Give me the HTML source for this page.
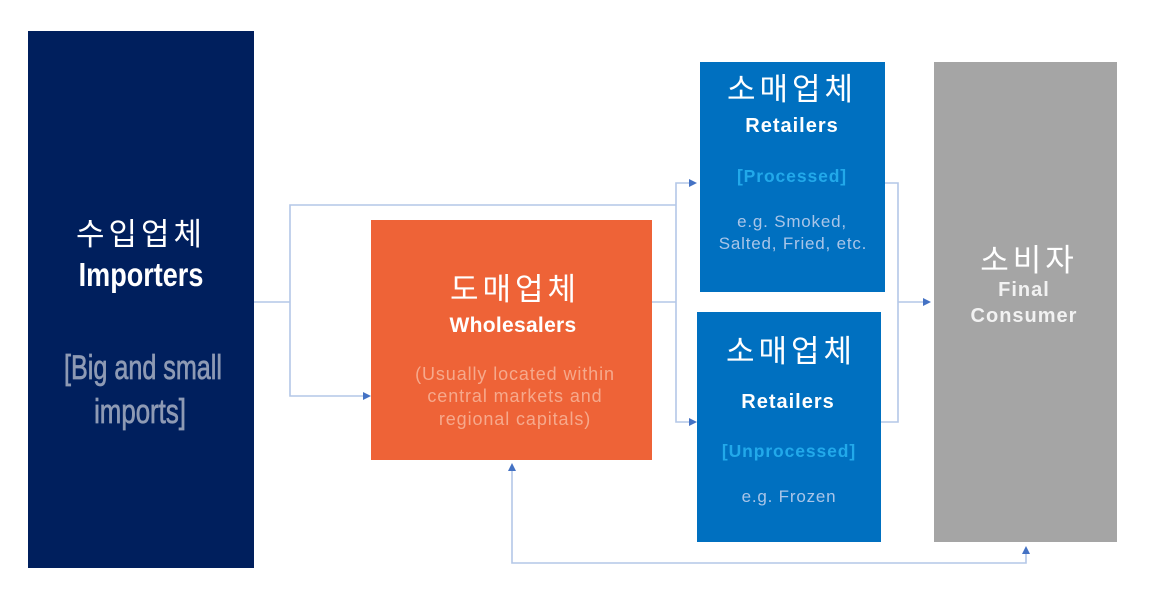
<!DOCTYPE html>
<html>
<head>
<meta charset="utf-8">
<style>
html,body{margin:0;padding:0;background:#ffffff;}
body{width:1156px;height:595px;overflow:hidden;}
svg{display:block;}
.ko{font-family:"Liberation Sans","Noto Sans CJK KR",sans-serif;font-size:31px;fill:#ffffff;letter-spacing:4px;}
.b{font-family:"Liberation Sans",sans-serif;font-weight:bold;}
.r{font-family:"Liberation Sans",sans-serif;}
</style>
</head>
<body>
<svg width="1156" height="595" viewBox="0 0 1156 595" xmlns="http://www.w3.org/2000/svg">
  <rect x="0" y="0" width="1156" height="595" fill="#ffffff"/>

  <!-- connectors -->
  <g fill="none" stroke="#b4c7e7" stroke-width="1.6">
    <polyline points="254,302 290,302"/>
    <polyline points="676,205 290,205 290,396 364,396"/>
    <polyline points="652,302 676,302"/>
    <polyline points="690,183 676,183 676,422 690,422"/>
    <polyline points="885,183 898,183 898,422 881,422"/>
    <polyline points="898,302 924,302"/>
    <polyline points="512,470 512,563 1026,563 1026,552"/>
  </g>
  <g fill="#4472c4">
    <polygon points="371,396 363,392 363,400"/>
    <polygon points="697,183 689,179 689,187"/>
    <polygon points="697,422 689,418 689,426"/>
    <polygon points="931,302 923,298 923,306"/>
    <polygon points="512,463 508,471 516,471"/>
    <polygon points="1026,546 1022,554 1030,554"/>
  </g>

  <!-- Importers -->
  <rect x="28" y="31" width="226" height="537" fill="#001f5d"/>
  <text class="ko" x="141" y="245" text-anchor="middle">수입업체</text>
  <text class="b" x="0" y="0" font-size="33" fill="#ffffff" text-anchor="middle" transform="translate(141,286) scale(0.82,1)">Importers</text>
  <text class="r" x="0" y="0" font-size="34" fill="#8e9ab4" stroke="#8e9ab4" stroke-width="0.7" text-anchor="middle" transform="translate(143,379) scale(0.74,1)">[Big and small</text>
  <text class="r" x="0" y="0" font-size="34" fill="#8e9ab4" stroke="#8e9ab4" stroke-width="0.7" text-anchor="middle" transform="translate(140,423) scale(0.76,1)">imports]</text>

  <!-- Wholesalers -->
  <rect x="371" y="220" width="281" height="240" fill="#ee6337"/>
  <text class="ko" x="515" y="300" text-anchor="middle">도매업체</text>
  <text class="b" x="513" y="332" font-size="21" fill="#ffffff" text-anchor="middle" letter-spacing="0.3">Wholesalers</text>
  <g class="r" font-size="18" fill="#f6a98c" text-anchor="middle" letter-spacing="0.9">
    <text x="515" y="380">(Usually located within</text>
    <text x="515" y="402">central markets and</text>
    <text x="515" y="425">regional capitals)</text>
  </g>

  <!-- Retailers top -->
  <rect x="700" y="62" width="185" height="230" fill="#0070c0"/>
  <text class="ko" x="792" y="100" text-anchor="middle">소매업체</text>
  <text class="b" x="792" y="132" font-size="20" fill="#ffffff" text-anchor="middle" letter-spacing="1">Retailers</text>
  <text class="b" x="792" y="182" font-size="17.5" fill="#22a9ea" text-anchor="middle" letter-spacing="0.9">[Processed]</text>
  <g class="r" font-size="17" fill="#a9c5e8" text-anchor="middle" letter-spacing="0.8">
    <text x="792" y="227">e.g. Smoked,</text>
    <text x="793" y="249">Salted, Fried, etc.</text>
  </g>

  <!-- Retailers bottom -->
  <rect x="697" y="312" width="184" height="230" fill="#0070c0"/>
  <text class="ko" x="791" y="362" text-anchor="middle">소매업체</text>
  <text class="b" x="788" y="408" font-size="20" fill="#ffffff" text-anchor="middle" letter-spacing="1">Retailers</text>
  <text class="b" x="789" y="457" font-size="17.5" fill="#22a9ea" text-anchor="middle" letter-spacing="0.9">[Unprocessed]</text>
  <text class="r" x="789" y="502" font-size="17" fill="#a9c5e8" text-anchor="middle" letter-spacing="0.8">e.g. Frozen</text>

  <!-- Consumer -->
  <rect x="934" y="62" width="183" height="480" fill="#a5a5a5"/>
  <text class="ko" x="1029" y="271" text-anchor="middle">소비자</text>
  <text class="b" x="1024" y="296" font-size="20" fill="#f2f2f2" text-anchor="middle" letter-spacing="1">Final</text>
  <text class="b" x="1024" y="322" font-size="20" fill="#f2f2f2" text-anchor="middle" letter-spacing="1">Consumer</text>
</svg>
</body>
</html>
